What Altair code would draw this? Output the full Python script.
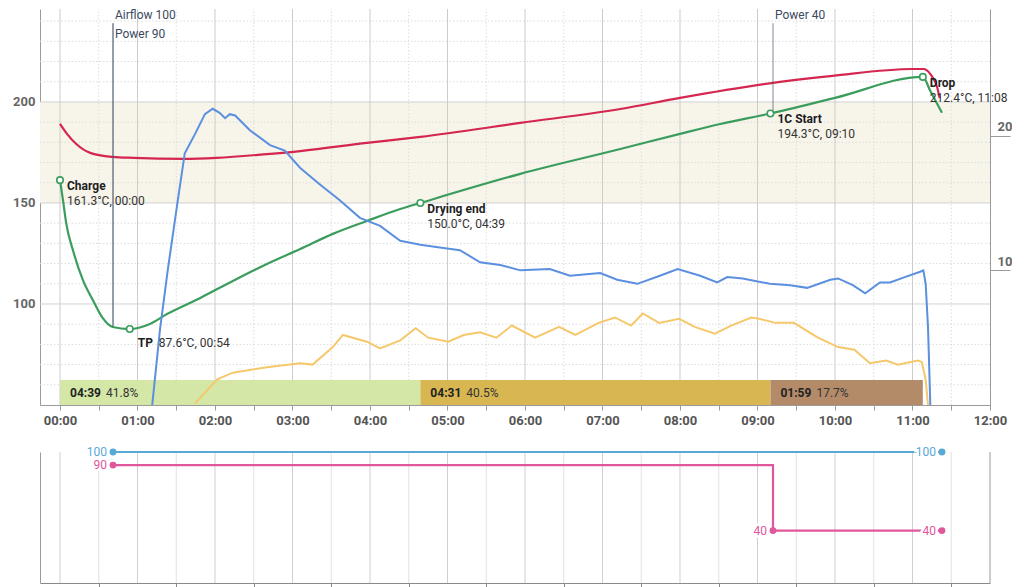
import altair as alt
import pandas as pd

FONT = "Roboto"

# ---------------- axis domains ----------------
X_MIN, X_MAX = -0.258, 12.0          # minutes
T_MIN, T_MAX = 50.0, 246.0           # temperature (left axis)
R_MIN, R_MAX = 0.0, 29.41            # rate of rise (right axis)

# ---------------- series (time in minutes) ----------------
bt_t = [0.00, 0.04, 0.08, 0.17, 0.30, 0.43, 0.55, 0.68, 0.90, 1.16, 1.38, 1.81, 2.23, 2.67,
        3.10, 3.52, 3.96, 4.39, 4.65, 5.94, 7.23, 8.00, 8.52, 9.167, 10.00, 11.133, 11.23, 11.38]
bt_v = [161.3, 151.0, 140.0, 126.2, 111.4, 101.5, 93.1, 88.6, 87.6, 90.1, 95.0, 103.0, 111.4, 119.8,
        127.2, 134.7, 141.1, 147.0, 150.0, 164.4, 176.7, 184.2, 189.1, 194.3, 202.0, 212.4, 205.4, 194.6]

et_t = [0.00, 0.09, 0.21, 0.39, 0.68, 0.95, 1.59, 2.02, 2.67, 3.10, 3.96, 4.65, 5.94, 7.23,
        8.00, 9.29, 9.97, 11.00, 11.14, 11.23, 11.32, 11.35]
et_v = [189.1, 184.2, 179.2, 174.8, 172.8, 172.3, 171.8, 172.3, 174.2, 175.7, 179.7, 182.7, 189.6, 196.5,
        202.0, 209.9, 212.9, 216.3, 216.3, 213.8, 207.0, 202.0]

ror_t = [1.19, 1.29, 1.39, 1.52, 1.61, 1.74, 1.87, 1.97, 2.06, 2.13, 2.19, 2.26, 2.45, 2.71, 2.90,
         3.10, 3.35, 3.61, 3.87, 4.13, 4.39, 4.65, 4.90, 5.16, 5.42, 5.68, 5.94, 6.32, 6.58, 6.97,
         7.19, 7.45, 7.74, 7.97, 8.26, 8.48, 8.61, 8.81, 9.16, 9.42, 9.64, 9.94, 10.04, 10.23, 10.39,
         10.58, 10.71, 10.90, 11.10, 11.14, 11.17, 11.20, 11.23]
ror_v = [0.0, 5.6, 10.0, 15.2, 18.7, 20.1, 21.6, 22.0, 21.7, 21.3, 21.6, 21.5, 20.4, 19.3, 18.9,
         17.6, 16.4, 15.2, 13.9, 13.3, 12.2, 11.9, 11.7, 11.5, 10.6, 10.4, 10.0, 10.1, 9.6, 9.8,
         9.3, 9.0, 9.6, 10.1, 9.6, 9.1, 9.5, 9.4, 9.0, 8.9, 8.7, 9.3, 9.4, 8.9, 8.3,
         9.1, 9.1, 9.5, 9.9, 10.0, 9.0, 5.8, 0.0]

et_ror_t = [1.74, 2.03, 2.23, 2.67, 3.10, 3.26, 3.52, 3.65, 3.96, 4.13, 4.39, 4.59, 4.75, 5.01,
            5.21, 5.42, 5.63, 5.83, 6.13, 6.44, 6.65, 6.95, 7.16, 7.37, 7.52, 7.73, 7.99, 8.19,
            8.45, 8.66, 8.92, 9.02, 9.23, 9.47, 9.78, 10.04, 10.25, 10.45, 10.66, 10.81, 11.07,
            11.12, 11.17, 11.20]
et_ror_v = [0.1, 1.9, 2.4, 2.8, 3.1, 3.0, 4.3, 5.2, 4.7, 4.2, 4.8, 5.7, 5.0, 4.7,
            5.2, 5.4, 5.0, 5.9, 5.0, 5.8, 5.2, 6.1, 6.5, 5.9, 6.8, 6.1, 6.4, 5.8,
            5.3, 5.9, 6.5, 6.4, 6.1, 6.1, 5.0, 4.3, 4.1, 3.1, 3.3, 3.0, 3.3,
            3.2, 1.9, 0.0]

# ---------------- phases ----------------
phase_name = ["Drying", "Maillard", "Development"]
phase_start = [0.0, 4.65, 9.167]
phase_end = [4.65, 9.167, 11.133]
phase_time = ["04:39", "04:31", "01:59"]
phase_pct = ["41.8%", "40.5%", "17.7%"]
phase_colors = ["#d4e7a7", "#d8b752", "#b38b69"]
phase_low, phase_high, phase_mid = 50.0, 62.4, 55.9

# ---------------- roast events ----------------
mark_names = ["Charge", "TP", "Drying end", "1C Start", "Drop"]
mark_sec = [0, 54, 279, 550, 668]
mark_temp = [161.3, 87.6, 150.0, 194.3, 212.4]

event_names = ["Airflow 100", "Power 90", "Power 40"]
event_t = [0.684, 0.684, 9.2]
event_top = [239.0, 239.0, 239.0]
event_bt = [88.8, 88.8, 194.5]
event_label_v = [242.8, 233.6, 242.8]

# ---------------- grid / ticks ----------------
band = [150, 200]
temp_major = [100, 150, 200]
temp_minor = [60, 70, 80, 90, 110, 120, 130, 140, 160, 170, 180, 190, 210, 220, 230, 240]
minute_major = list(range(0, 12))
minute_minor = [m + 0.5 for m in range(0, 12)]
minute_ticks = sorted(minute_major + minute_minor + [12])
ror_ticks = [10, 20]

# ---------------- control panel ----------------
airflow_t = [0.684, 11.38]
airflow_v = [100, 100]
power_t = [0.684, 9.2, 11.38]
power_v = [90, 40, 40]
AIR_C, POW_C = "#5aa8d6", "#e0579b"

# ======================================================
xs = alt.Scale(domain=[X_MIN, X_MAX], nice=False, zero=False)
ts = alt.Scale(domain=[T_MIN, T_MAX], nice=False, zero=False)
rs = alt.Scale(domain=[R_MIN, R_MAX], nice=False, zero=False)

x_axis = alt.Axis(
    values=minute_ticks,
    labelExpr="datum.value % 1 == 0 ? (datum.value < 10 ? '0' : '') + datum.value + ':00' : ''",
    grid=False, tickSize=5, tickColor="#9a9a9a", domainColor="#9a9a9a",
    labelFont=FONT, labelFontWeight="bold", labelFontSize=13, labelColor="#555555",
    labelPadding=4, title=None, labelFlush=False, labelOverlap=False,
)
t_axis = alt.Axis(
    values=temp_major, grid=False, ticks=False, labelPadding=5, domainColor="#9a9a9a",
    labelFont=FONT, labelFontWeight="bold", labelFontSize=13, labelColor="#666666",
    title=None, minExtent=32, maxExtent=32,
)
r_axis = alt.Axis(
    orient="right", values=ror_ticks, grid=False, tickSize=20, tickColor="#9a9a9a",
    domainColor="#9a9a9a", labelPadding=-13, labelAlign="left", labelBaseline="bottom",
    labelOffset=-2, labelFont=FONT, labelFontWeight="bold", labelFontSize=13,
    labelColor="#666666", title=None,
)


def X(f):
    return alt.X(f, type="quantitative", scale=xs, axis=x_axis)


def TY(f, axis=t_axis):
    return alt.Y(f, type="quantitative", scale=ts, axis=axis)


band_df = pd.DataFrame({"x0": [X_MIN], "x1": [X_MAX], "y0": [band[0]], "y1": [band[1]]})
hmin_df = pd.DataFrame({"v": temp_minor, "x0": X_MIN, "x1": X_MAX})
hmaj_df = pd.DataFrame({"v": temp_major, "x0": X_MIN, "x1": X_MAX})
vmin_df = pd.DataFrame({"m": minute_minor, "y0": T_MIN, "y1": T_MAX})
vmaj_df = pd.DataFrame({"m": minute_major, "y0": T_MIN, "y1": T_MAX})
phase_df = pd.DataFrame({"name": phase_name, "s": phase_start, "e": phase_end,
                         "time": phase_time, "pct": phase_pct,
                         "lo": phase_low, "hi": phase_high, "mid": phase_mid})
bt_df = pd.DataFrame({"t": bt_t, "v": bt_v})
et_df = pd.DataFrame({"t": et_t, "v": et_v})
ror_df = pd.DataFrame({"t": ror_t, "v": ror_v})
etror_df = pd.DataFrame({"t": et_ror_t, "v": et_ror_v})
ev_df = pd.DataFrame({"name": event_names, "t": event_t, "top": event_top,
                      "bt": event_bt, "ly": event_label_v})
mk_df = pd.DataFrame({"name": mark_names, "t": [s / 60 for s in mark_sec], "v": mark_temp,
                      "detail": [f"{v:.1f}°C, {s // 60:02d}:{s % 60:02d}"
                                 for v, s in zip(mark_temp, mark_sec)]})

band_l = alt.Chart(band_df).mark_rect(color="#f7f4ea").encode(
    x=X("x0"), x2="x1", y=TY("y0"), y2="y1")
hmin_l = alt.Chart(hmin_df).mark_rule(color="#dcdcdc", strokeDash=[1.5, 2], strokeWidth=1).encode(
    x=X("x0"), x2="x1", y=TY("v"))
hmaj_l = alt.Chart(hmaj_df).mark_rule(color="#d2d2d2", strokeWidth=1).encode(
    x=X("x0"), x2="x1", y=TY("v"))
vmin_l = alt.Chart(vmin_df).mark_rule(color="#dcdcdc", strokeDash=[1.5, 2], strokeWidth=1).encode(
    x=X("m"), y=TY("y0"), y2="y1")
vmaj_l = alt.Chart(vmaj_df).mark_rule(color="#cccccc", strokeWidth=1).encode(
    x=X("m"), y=TY("y0"), y2="y1")
phase_layers = []
for i, c in enumerate(phase_colors):
    phase_layers.append(alt.Chart(phase_df.iloc[[i]]).mark_rect(color=c).encode(
        x=X("s"), x2="e", y=TY("lo"), y2="hi"))
phase_t1 = alt.Chart(phase_df).mark_text(
    align="left", baseline="middle", dx=10, font=FONT, fontSize=12, fontWeight="bold",
    color="#222222").encode(x=X("s"), y=TY("mid"), text="time:N")
phase_t2 = alt.Chart(phase_df).mark_text(
    align="left", baseline="middle", dx=46, font=FONT, fontSize=12, color="#333333").encode(
    x=X("s"), y=TY("mid"), text="pct:N")
et_l = alt.Chart(et_df).mark_line(color="#d4264f", strokeWidth=2.2, interpolate="monotone").encode(
    x=X("t"), y=TY("v"))
bt_l = alt.Chart(bt_df).mark_line(color="#3b9d5d", strokeWidth=2.2, interpolate="monotone").encode(
    x=X("t"), y=TY("v"))
ev_rule = alt.Chart(ev_df).mark_rule(color="#4a5870", opacity=0.55, strokeWidth=1.3).encode(
    x=X("t"), y=TY("top"), y2="bt")
ev_text = alt.Chart(ev_df).mark_text(
    align="left", baseline="middle", dx=2, font=FONT, fontSize=12, color="#3b4a5e").encode(
    x=X("t"), y=TY("ly"), text="name:N")

temp_group = alt.layer(band_l, hmin_l, hmaj_l, vmin_l, vmaj_l, *phase_layers, phase_t1, phase_t2,
                       et_l, bt_l, ev_rule, ev_text)

ror_l = alt.Chart(ror_df).mark_line(color="#5b8fdf", strokeWidth=2).encode(
    x=X("t"), y=alt.Y("v:Q", scale=rs, axis=r_axis))
etror_l = alt.Chart(etror_df).mark_line(color="#f6c86c", strokeWidth=2).encode(
    x=X("t"), y=alt.Y("v:Q", scale=rs, axis=r_axis))
ror_group = alt.layer(ror_l, etror_l)

mk_main = mk_df[mk_df["name"] != "TP"]
mk_tp = mk_df[mk_df["name"] == "TP"]
mk_pts = alt.Chart(mk_df).mark_point(
    shape="circle", filled=True, fill="white", stroke="#3b9d5d", strokeWidth=1.6, size=42,
    opacity=1).encode(x=X("t"), y=TY("v", None))
mk_name = alt.Chart(mk_main).mark_text(
    align="left", baseline="middle", dx=7, dy=6, font=FONT, fontSize=12, fontWeight="bold",
    color="#1e1e1e").encode(x=X("t"), y=TY("v", None), text="name:N")
mk_det = alt.Chart(mk_main).mark_text(
    align="left", baseline="middle", dx=7, dy=21, font=FONT, fontSize=12, color="#333333").encode(
    x=X("t"), y=TY("v", None), text="detail:N")
tp_name = alt.Chart(mk_tp).mark_text(
    align="left", baseline="middle", dx=8, dy=14, font=FONT, fontSize=12, fontWeight="bold",
    color="#1e1e1e").encode(x=X("t"), y=TY("v", None), text="name:N")
tp_det = alt.Chart(mk_tp).mark_text(
    align="left", baseline="middle", dx=29, dy=14, font=FONT, fontSize=12, color="#333333").encode(
    x=X("t"), y=TY("v", None), text="detail:N")
ann_group = alt.layer(mk_pts, mk_name, mk_det, tp_name, tp_det)

top = alt.layer(temp_group, ror_group, ann_group).resolve_scale(y="independent").properties(
    width=950, height=396)

# ---------------- bottom control panel ----------------
bxs = alt.Scale(domain=[X_MIN, X_MAX], nice=False, zero=False)
bys = alt.Scale(domain=[0, 100], nice=False, zero=False)
bx_axis = alt.Axis(values=minute_minor, labels=False, tickSize=5, grid=False,
                   domainColor="#8a8a8a", tickColor="#8a8a8a", title=None)
by_axis = alt.Axis(labels=False, ticks=False, grid=False, domainColor="#9a9a9a", title=None)


def BX(f):
    return alt.X(f, type="quantitative", scale=bxs, axis=bx_axis)


def BY(f):
    return alt.Y(f, type="quantitative", scale=bys, axis=by_axis)


bmaj_df = pd.DataFrame({"m": minute_major, "y0": 0, "y1": 100})
bmin_df = pd.DataFrame({"m": minute_minor, "y0": 0, "y1": 100})
bborder_df = pd.DataFrame({"m": [X_MAX], "y0": [0], "y1": [100]})
air_df = pd.DataFrame({"t": airflow_t, "v": airflow_v})
pow_df = pd.DataFrame({"t": power_t, "v": power_v})
air_df["label"] = air_df["v"].astype(str)
pow_df["label"] = pow_df["v"].astype(str)

bmaj = alt.Chart(bmaj_df).mark_rule(color="#d0d0d0", strokeWidth=1).encode(
    x=BX("m"), y=BY("y0"), y2="y1")
bmin = alt.Chart(bmin_df).mark_rule(color="#e2e2e2", strokeWidth=1).encode(
    x=BX("m"), y=BY("y0"), y2="y1")
bborder = alt.Chart(bborder_df).mark_rule(color="#9a9a9a", strokeWidth=1).encode(
    x=BX("m"), y=BY("y0"), y2="y1")

ctrl_layers = []
for df, col, interp in [(air_df, AIR_C, "linear"), (pow_df, POW_C, "step-after")]:
    ctrl_layers.append(alt.Chart(df).mark_line(color=col, strokeWidth=2.2, interpolate=interp)
                       .encode(x=BX("t"), y=BY("v")))
for df, col, interp in [(air_df, AIR_C, "linear"), (pow_df, POW_C, "step-after")]:
    ctrl_layers.append(alt.Chart(df).mark_text(
        align="right", baseline="middle", dx=-6, font=FONT, fontSize=12, stroke="white",
        strokeWidth=5, fill="white").encode(x=BX("t"), y=BY("v"), text="label:N"))
    ctrl_layers.append(alt.Chart(df).mark_text(
        align="right", baseline="middle", dx=-6, font=FONT, fontSize=12, color=col).encode(
        x=BX("t"), y=BY("v"), text="label:N"))
    ctrl_layers.append(alt.Chart(df).mark_circle(size=48, opacity=1, color=col).encode(
        x=BX("t"), y=BY("v")))

bottom = alt.layer(bmin, bmaj, bborder, *ctrl_layers).properties(width=950, height=131)

chart = alt.vconcat(top, bottom, spacing=19).properties(
    padding={"left": 0, "top": 0, "right": 0, "bottom": 0}
).configure_view(stroke=None)

chart.save("out.html", embed_options={"renderer": "svg", "actions": False})
